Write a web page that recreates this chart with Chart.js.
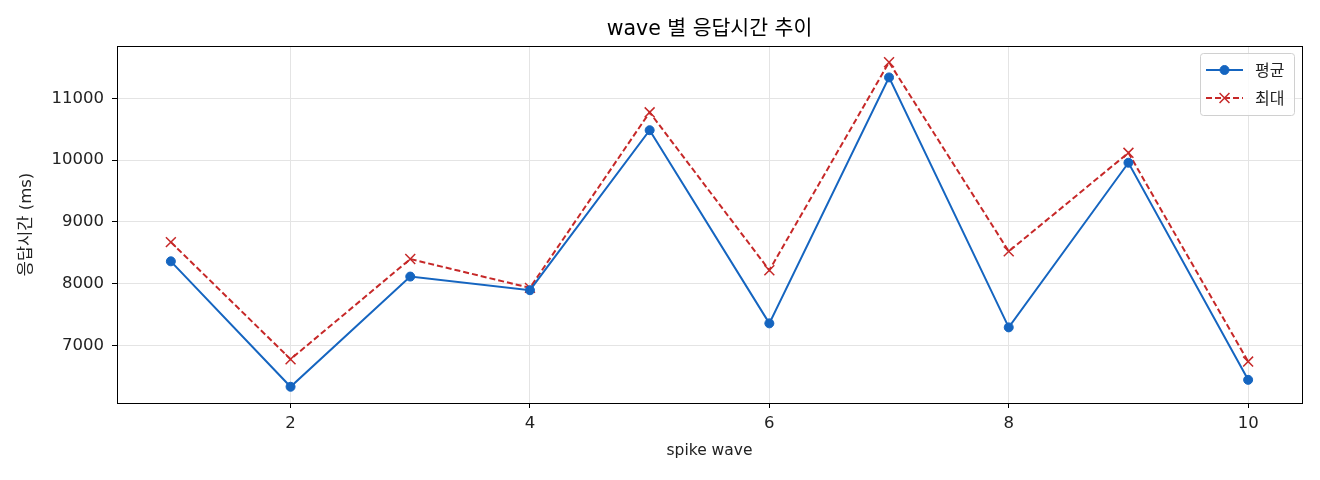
<!DOCTYPE html>
<html>
<head>
<meta charset="utf-8">
<script src="https://cdn.jsdelivr.net/npm/chart.js@4/dist/chart.umd.min.js"></script>
<style>
  html, body { margin: 0; padding: 0; background: #fff; }
  #wrap { width: 1320px; height: 480px; position: relative; }
</style>
</head>
<body>
<div id="wrap"><canvas id="c" width="1320" height="480"></canvas></div>
<script>
const waves = [1, 2, 3, 4, 5, 6, 7, 8, 9, 10];
const avgValues = [8360, 6328, 8113, 7892, 10484, 7355, 11339, 7290, 9957, 6440];
const maxValues = [8671, 6774, 8397, 7930, 10774, 8215, 11585, 8521, 10118, 6736];
const xTickValues = [2, 4, 6, 8, 10];
const yTickValues = [7000, 8000, 9000, 10000, 11000];
const seriesLabels = ['평균', '최대'];
const titleText = 'wave 별 응답시간 추이';
const xTitle = 'spike wave';
const yTitle = '응답시간 (ms)';

const FONT = "'DejaVu Sans', 'Noto Sans CJK KR', sans-serif";
const CJK = "'Noto Sans CJK KR', 'DejaVu Sans', sans-serif";
Chart.defaults.font.family = FONT;
Chart.defaults.color = '#222';

const frame = {
  id: 'frame',
  afterDraw(chart) {
    const { ctx, chartArea: a } = chart;
    ctx.save();
    ctx.strokeStyle = '#000';
    ctx.lineWidth = 1;
    ctx.strokeRect(a.left + 0.5, a.top + 0.5, a.right - a.left, a.bottom - a.top);
    ctx.restore();
  }
};

const innerLegend = {
  id: 'innerLegend',
  afterDraw(chart) {
    const c = chart.ctx;
    const ds = chart.data.datasets;
    const a = chart.chartArea;
    const boxW = 94, boxH = 62;
    const x0 = a.right - 8 - boxW, y0 = a.top + 7;
    c.save();
    c.fillStyle = 'rgba(255,255,255,0.85)';
    c.strokeStyle = '#d0d0d0';
    c.lineWidth = 1;
    c.beginPath();
    c.roundRect(x0 + 0.5, y0 + 0.5, boxW, boxH, 3);
    c.fill();
    c.stroke();
    ds.forEach((d, i) => {
      const cy = y0 + 17 + i * 28;
      const lx0 = x0 + 6, lx1 = x0 + 43;
      c.strokeStyle = d.borderColor;
      c.lineWidth = d.borderWidth;
      c.setLineDash(d.borderDash || []);
      c.beginPath();
      c.moveTo(lx0, cy);
      c.lineTo(lx1, cy);
      c.stroke();
      c.setLineDash([]);
      c.fillStyle = d.pointBackgroundColor;
      c.strokeStyle = d.pointBorderColor;
      c.lineWidth = d.pointBorderWidth;
      Chart.helpers.drawPoint(c, { pointStyle: d.pointStyle, rotation: 0, radius: d.pointRadius, borderWidth: d.pointBorderWidth }, (lx0 + lx1) / 2, cy);
      c.fillStyle = '#222';
      c.font = '16px ' + CJK;
      c.textBaseline = 'middle';
      c.textAlign = 'left';
      c.fillText(d.label, x0 + 55, cy);
    });
    c.restore();
  }
};

const ctx = document.getElementById('c').getContext('2d');
new Chart(ctx, {
  type: 'line',
  data: {
    datasets: [
      {
        label: seriesLabels[0],
        data: waves.map((w, i) => ({ x: w, y: avgValues[i] })),
        borderColor: '#1565C0',
        backgroundColor: '#1565C0',
        borderWidth: 2,
        pointStyle: 'circle',
        pointRadius: 4.5,
        pointBorderWidth: 1,
        pointBackgroundColor: '#1565C0',
        pointBorderColor: '#1565C0',
        tension: 0
      },
      {
        label: seriesLabels[1],
        data: waves.map((w, i) => ({ x: w, y: maxValues[i] })),
        borderColor: '#C62828',
        backgroundColor: '#C62828',
        borderWidth: 2,
        borderDash: [6, 3],
        pointStyle: 'crossRot',
        pointRadius: 7,
        pointBorderWidth: 1.5,
        pointBackgroundColor: '#C62828',
        pointBorderColor: '#C62828',
        tension: 0
      }
    ]
  },
  options: {
    responsive: false,
    animation: false,
    layout: { padding: { left: 0, right: 18, top: 0, bottom: 0 } },
    plugins: {
      legend: { display: false },
      tooltip: { enabled: false },
      title: {
        display: true,
        fullSize: false,
        text: titleText,
        color: '#000',
        font: { size: 20.5, weight: 'normal', family: FONT },
        padding: { top: 17, bottom: 4.4 }
      }
    },
    scales: {
      x: {
        type: 'linear',
        min: 0.55,
        max: 10.45,
        afterBuildTicks: s => { s.ticks = xTickValues.map(v => ({ value: v })); },
        afterFit: s => { s.height = 77; },
        grid: { color: '#e4e4e4', lineWidth: 1, tickColor: '#000', tickLength: 5, tickWidth: 1 },
        border: { color: '#000', width: 1 },
        ticks: { font: { size: 16.5 }, color: '#222', padding: 6, maxRotation: 0 },
        title: { display: true, text: xTitle, color: '#222', font: { size: 15.5 }, padding: { top: 4, bottom: 20 } }
      },
      y: {
        type: 'linear',
        min: 6065,
        max: 11848,
        afterBuildTicks: s => { s.ticks = yTickValues.map(v => ({ value: v })); },
        afterFit: s => { s.width = 117; },
        grid: { color: '#e4e4e4', lineWidth: 1, tickColor: '#000', tickLength: 5, tickWidth: 1 },
        border: { color: '#000', width: 1 },
        ticks: { font: { size: 16.5 }, color: '#222', padding: 8, callback: v => String(v) },
        title: { display: true, text: yTitle, color: '#222', font: { size: 16.5 }, padding: { top: 16.5, bottom: 4 } }
      }
    }
  },
  plugins: [frame, innerLegend]
});
</script>
</body>
</html>
